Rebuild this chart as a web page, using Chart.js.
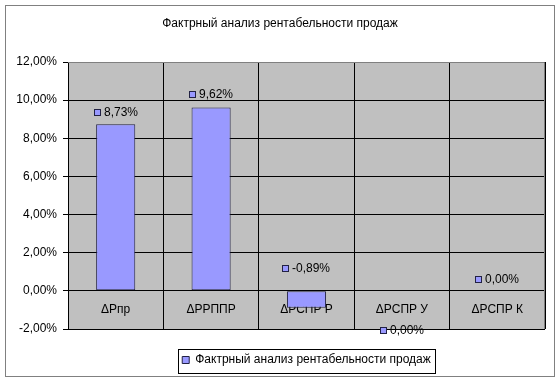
<!DOCTYPE html>
<html>
<head>
<meta charset="utf-8">
<script src="https://cdn.jsdelivr.net/npm/chart.js@4/dist/chart.umd.min.js"></script>
<style>
html,body{margin:0;padding:0;background:#fff;}
#wrap{width:560px;height:381px;position:relative;}
</style>
</head>
<body>
<div id="wrap"><canvas id="c" width="560" height="381"></canvas></div>
<script>
const chartTitle = 'Фактрный анализ рентабельности продаж';
const seriesName = 'Фактрный анализ рентабельности продаж';
const categories = ['ΔРпр', 'ΔРРППР', 'ΔРСПР Р', 'ΔРСПР У', 'ΔРСПР К'];
const values = [8.73, 9.62, -0.89, 0.00, 0.00];
const yMin = -2, yMax = 12, yStep = 2;

const FONT = 'Liberation Sans, Arial, sans-serif';
const BAR_COLOR = '#9999ff';
const labelDy = [-12.5, -13, -40, 39, -12];

function fmt(v) {
  return v.toFixed(2).replace('.', ',') + '%';
}

const decor = {
  id: 'decor',
  beforeDraw(chart) {
    const ctx = chart.ctx;
    const a = chart.chartArea;
    ctx.save();
    ctx.fillStyle = '#ffffff';
    ctx.fillRect(0, 0, chart.width, chart.height);
    ctx.strokeStyle = '#808080';
    ctx.lineWidth = 1;
    ctx.strokeRect(5.5, 5.5, chart.width - 11, chart.height - 10);
    ctx.fillStyle = '#c0c0c0';
    ctx.fillRect(a.left, a.top, a.right - a.left, a.bottom - a.top);
    ctx.restore();
  },
  afterDatasetsDraw(chart) {
    const ctx = chart.ctx;
    const meta = chart.getDatasetMeta(0);
    ctx.save();
    ctx.font = '12px ' + FONT;
    ctx.textBaseline = 'middle';
    ctx.textAlign = 'left';
    meta.data.forEach((el, i) => {
      const txt = fmt(values[i]);
      const tw = ctx.measureText(txt).width;
      const total = 7 + 3 + tw;
      const x0 = Math.round(el.x - total / 2);
      const yc = Math.round(el.y + labelDy[i]);
      ctx.fillStyle = BAR_COLOR;
      ctx.fillRect(x0, yc - 3, 7, 7);
      ctx.strokeStyle = '#222244';
      ctx.lineWidth = 1;
      ctx.strokeRect(x0 + 0.5, yc - 2.5, 6, 6);
      ctx.fillStyle = '#000000';
      ctx.fillText(txt, x0 + 10, yc + 0.5);
    });
    ctx.restore();
  },
  afterDraw(chart) {
    const ctx = chart.ctx;
    const a = chart.chartArea;
    ctx.save();
    ctx.strokeStyle = '#808080';
    ctx.lineWidth = 1;
    ctx.beginPath();
    ctx.moveTo(a.left, a.top + 0.5);
    ctx.lineTo(a.right - 0.5, a.top + 0.5);
    ctx.lineTo(a.right - 0.5, a.bottom);
    ctx.stroke();
    const lg = chart.legend;
    if (lg && lg.legendHitBoxes && lg.legendHitBoxes[0]) {
      const hb = lg.legendHitBoxes[0];
      ctx.strokeStyle = '#000000';
      ctx.strokeRect(Math.round(hb.left - 4) + 0.5, Math.round(hb.top - 5) + 0.5,
        Math.round(hb.width + 8), Math.round(hb.height + 12));
    }
    ctx.restore();
  }
};

new Chart(document.getElementById('c'), {
  type: 'bar',
  data: {
    labels: categories,
    datasets: [{
      label: seriesName,
      data: values,
      backgroundColor: BAR_COLOR,
      borderColor: '#222244',
      borderWidth: 1,
      borderSkipped: false,
      barPercentage: 0.41,
      categoryPercentage: 1.0
    }]
  },
  options: {
    responsive: false,
    animation: false,
    devicePixelRatio: 1,
    layout: { padding: { left: 15, right: 15, top: 0, bottom: 5 } },
    scales: {
      x: {
        position: { y: 0 },
        offset: true,
        grid: { display: true, offset: true, color: '#000000', lineWidth: 1, drawTicks: false },
        border: { display: true, color: '#000000' },
        ticks: { color: '#000000', font: { family: FONT, size: 12 }, padding: 12, maxRotation: 0 }
      },
      y: {
        min: yMin,
        max: yMax,
        afterFit(s) { s.width = 53; },
        grid: { color: '#000000', lineWidth: 1, tickLength: 5, drawTicks: true },
        border: { display: true, color: '#000000' },
        ticks: {
          stepSize: yStep,
          color: '#000000',
          font: { family: FONT, size: 12 },
          padding: 6,
          callback: (v) => fmt(v)
        }
      }
    },
    plugins: {
      title: {
        display: true,
        text: chartTitle,
        color: '#000000',
        font: { family: FONT, size: 12, weight: 'normal' },
        padding: { top: 16.8, bottom: 30.8 }
      },
      legend: {
        display: true,
        position: 'bottom',
        fullSize: false,
        labels: {
          color: '#000000',
          font: { family: FONT, size: 12 },
          boxWidth: 7,
          boxHeight: 7,
          padding: 25
        }
      },
      tooltip: { enabled: false }
    }
  },
  plugins: [decor]
});
</script>
</body>
</html>
